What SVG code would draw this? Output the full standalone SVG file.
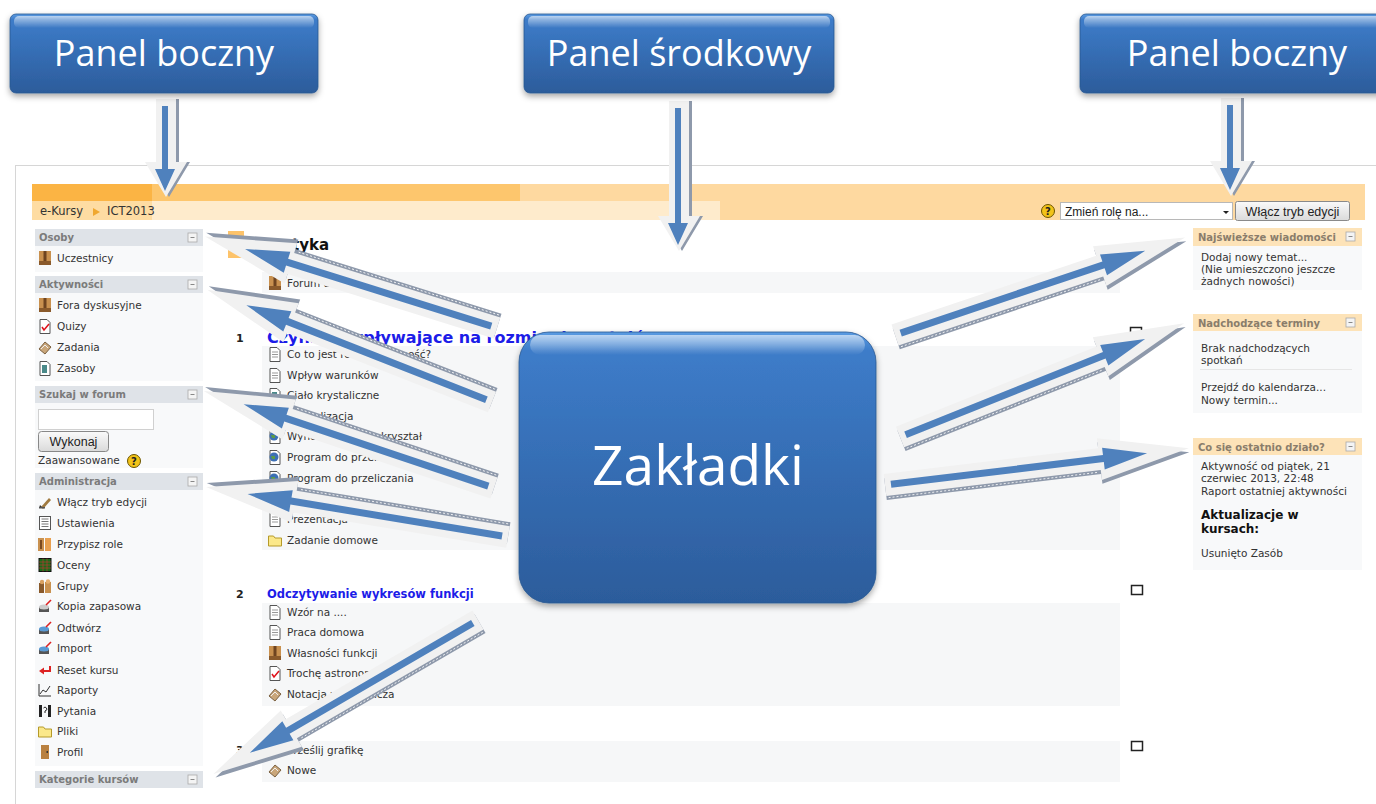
<svg xmlns="http://www.w3.org/2000/svg" xmlns:xlink="http://www.w3.org/1999/xlink" width="1376" height="804" viewBox="0 0 1376 804">
<defs>
<style>
.t{font-family:"DejaVu Sans",Verdana,sans-serif;font-size:10.5px;fill:#333}
.hd{font-family:"DejaVu Sans",Verdana,sans-serif;font-size:10px;font-weight:bold;fill:#7b7b7b}
.rh{font-family:"DejaVu Sans",Verdana,sans-serif;font-size:10px;font-weight:bold;fill:#8a7d6b}
.sec{font-family:"DejaVu Sans",Verdana,sans-serif;font-weight:bold;fill:#1c1ce8}
.num{font-family:"DejaVu Sans",Verdana,sans-serif;font-size:11px;font-weight:bold;fill:#222}
.lb{font-family:"Open Sans","Noto Sans",sans-serif;fill:#fff}
.ui{font-family:"Liberation Sans",Arial,sans-serif;font-size:12px;fill:#222}
.lhd{fill:#dfe3e8}
.rhd{fill:#fde3b8}
.body{fill:#f8f9fa}
.band{fill:#f6f7f8}
.aout{fill:#f1f1f1}
.ash{fill:#8e99ab}
.ablue{fill:#4f81bd}
.box{fill:url(#bg);stroke:#2a5890;stroke-width:0.8}
.gl{fill:url(#hl)}
.upd{font-family:"DejaVu Sans",Verdana,sans-serif;font-weight:bold;font-size:12px;fill:#111}
</style>
<linearGradient id="bg" x1="0" y1="0" x2="0" y2="1">
<stop offset="0" stop-color="#5a9be2"/><stop offset="0.07" stop-color="#3d7cc9"/><stop offset="1" stop-color="#2c5c9b"/>
</linearGradient>
<linearGradient id="hl" x1="0" y1="0" x2="0" y2="1">
<stop offset="0" stop-color="#fff" stop-opacity="0.6"/><stop offset="1" stop-color="#fff" stop-opacity="0"/>
</linearGradient>
<linearGradient id="btn" x1="0" y1="0" x2="0" y2="1">
<stop offset="0" stop-color="#fafafa"/><stop offset="1" stop-color="#dadada"/>
</linearGradient>
<filter id="sh" x="-10%" y="-10%" width="120%" height="130%">
<feDropShadow dx="0" dy="3" stdDeviation="3" flood-color="#000" flood-opacity="0.35"/>
</filter>
<g id="minus"><rect x="0" y="0" width="9" height="9" fill="#f4f4f4" stroke="#aaa" stroke-width="0.8"/><line x1="2.5" y1="4.5" x2="6.5" y2="4.5" stroke="#888"/></g>
<g id="help"><circle cx="7" cy="7" r="6.5" fill="#f2c318" stroke="#6b5400"/><text x="7" y="10.5" text-anchor="middle" font-size="10" font-weight="bold" font-family="DejaVu Sans,sans-serif" fill="#222">?</text></g>
<g id="i-forum"><rect x="1" y="0" width="12" height="14" fill="#c9914f"/><rect x="5.5" y="0" width="3" height="14" fill="#6e4420"/><rect x="1" y="10" width="12" height="4" fill="#8a5a2b"/></g>
<g id="i-page"><path d="M2 0.5h7l3 3v11h-10z" fill="#fff" stroke="#555"/><path d="M4 5h6M4 7.5h6M4 10h6" stroke="#999"/></g>
<g id="i-quiz"><path d="M2 0.5h7l3 3v11h-10z" fill="#fff" stroke="#555"/><polyline points="4,8 6,11 11,5" fill="none" stroke="#e0101a" stroke-width="1.5"/></g>
<g id="i-globe"><path d="M2 0.5h7l3 3v11h-10z" fill="#fff" stroke="#555"/><circle cx="6" cy="7" r="4.5" fill="#3c6fb5"/><path d="M3 6h4v3h-3z" fill="#5a9a4a"/></g>
<g id="i-res"><path d="M2 0.5h7l3 3v11h-10z" fill="#fff" stroke="#555"/><rect x="4" y="4" width="5" height="8" fill="#4a8a8a"/></g>
<g id="i-folder"><path d="M0.5 3h5l1.5 2h6.5v8h-13z" fill="#fbe88a" stroke="#b59a2a"/></g>
<g id="i-assign"><path d="M1 9l6-7 6 5-6 7z" fill="#c9a67a" stroke="#7a6040"/><path d="M3 9l4-4 3 3" fill="none" stroke="#eee"/></g>
<g id="i-edit"><path d="M3 12l8-9 2 2-8 9z" fill="#a07a40"/><path d="M1 13l3-1-2-2z" fill="#333"/><rect x="1" y="12" width="6" height="1.5" fill="#555"/></g>
<g id="i-set"><rect x="1.5" y="0.5" width="11" height="13" fill="#fff" stroke="#555"/><path d="M3.5 3h7M3.5 5.5h7M3.5 8h7M3.5 10.5h7" stroke="#777"/></g>
<g id="i-roles"><rect x="0" y="1" width="6" height="13" fill="#c9914f"/><rect x="7" y="1" width="6" height="13" fill="#e8a050"/><rect x="2" y="3" width="2" height="9" fill="#7a4a20"/></g>
<g id="i-grades"><rect x="1" y="0.5" width="12" height="13" fill="#1a6a1a" stroke="#111"/><path d="M1 4h12M1 7h12M1 10h12M5 0.5v13M9 0.5v13" stroke="#c33" stroke-width="0.6"/></g>
<g id="i-groups"><rect x="1" y="4" width="5" height="10" fill="#8a5a2b"/><rect x="7" y="3" width="6" height="11" fill="#c9914f"/><circle cx="4" cy="3" r="2.2" fill="#d9a060"/><circle cx="10" cy="2.5" r="2.2" fill="#e8b070"/></g>
<g id="i-backup"><rect x="1" y="8" width="10" height="5" fill="#555"/><ellipse cx="6" cy="8" rx="5" ry="2.5" fill="#ccc"/><path d="M8 6l5-5" stroke="#d22" stroke-width="1.6"/></g>
<g id="i-restore"><rect x="1" y="8" width="10" height="5" fill="#555"/><ellipse cx="6" cy="8" rx="5" ry="2.5" fill="#5a9ad4"/><path d="M8 6l5-5" stroke="#d22" stroke-width="1.6"/></g>
<g id="i-reset"><path d="M12 3v5h-7" stroke="#d22" fill="none" stroke-width="2"/><path d="M1 8l5-3.5v7z" fill="#d22"/></g>
<g id="i-report"><path d="M1 1v12h12" stroke="#333" fill="none"/><path d="M2 11l3-4 3 2 4-6" stroke="#333" fill="none"/></g>
<g id="i-quest"><rect x="1" y="1" width="3" height="12" fill="#222"/><rect x="10" y="1" width="3" height="12" fill="#222"/><path d="M5.5 4q1.5-2 3 0t-1.5 3v2" stroke="#222" fill="none"/></g>
<g id="i-profile"><rect x="3" y="0" width="8" height="14" fill="#b9803f"/><rect x="8.5" y="6" width="1.5" height="2" fill="#333"/></g>
<g id="adiag">
<polygon class="ash" points="0,-7 216,-7 216,-17 306,4 216,25 216,15 0,15"/>
<polyline points="2,13 214,13" fill="none" stroke="#fff" stroke-width="0.8" stroke-dasharray="2 2"/>
<polygon class="aout" points="0,-11 216,-11 216,-21 306,0 216,21 216,11 0,11"/>
<polygon class="ablue" points="6,-3.5 220,-3.5 220,-11 264,0 220,11 220,3.5 6,3.5"/>
</g>
<g id="adown">
<polygon class="ash" points="-7,0 13,0 13,63 24,63 3,98 -18,63 -7,63"/>
<polygon class="aout" points="-10,0 10,0 10,63 21,63 0,98 -21,63 -10,63"/>
<polygon class="ablue" points="-4,7 2,7 2,70 9,70 -1,92 -11,70 -4,70"/>
</g>
<g id="adownlong">
<polygon class="ash" points="-7,0 13,0 13,115 24,115 3,150 -18,115 -7,115"/>
<polygon class="aout" points="-10,0 10,0 10,115 21,115 0,150 -21,115 -10,115"/>
<polygon class="ablue" points="-4,7 2,7 2,122 9,122 -1,144 -11,122 -4,122"/>
</g>
</defs>

<rect x="0" y="0" width="1376" height="804" fill="#fff"/>

<g id="screenshot">
<line x1="15" y1="165.5" x2="1376" y2="165.5" stroke="#d6d6d6"/>
<line x1="15.5" y1="165" x2="15.5" y2="804" stroke="#d6d6d6"/>
<rect x="32" y="184" width="120" height="17" fill="#fbb444"/>
<rect x="152" y="184" width="368" height="17" fill="#fdc66d"/>
<rect x="520" y="184" width="845" height="17" fill="#fed9a0"/>
<rect x="32" y="201" width="120" height="19" fill="#fedca2"/>
<rect x="152" y="201" width="568" height="19" fill="#feebcc"/>
<rect x="720" y="201" width="645" height="19" fill="#fed9a0"/>
<text class="t" x="40" y="215" style="font-size:11.5px">e-Kursy</text>
<polygon points="93,208 100,212 93,216" fill="#f0a830"/>
<text class="t" x="107" y="215" style="font-size:11.5px">ICT2013</text>
<use href="#help" x="1041" y="204"/>
<rect x="1060.5" y="202.5" width="172" height="17" fill="#fff" stroke="#b8b8b8"/>
<text class="ui" x="1065" y="215.5">Zmień rolę na...</text>
<polygon points="1223,211 1229,211 1226,214" fill="#222"/>
<rect x="1235.5" y="201.5" width="114" height="19" rx="2" fill="url(#btn)" stroke="#8a8a8a"/>
<text class="ui" x="1292.5" y="215.5" text-anchor="middle" style="font-size:12.5px">Włącz tryb edycji</text>

<g id="left-blocks">
<rect class="lhd" x="35" y="229" width="168" height="17"/>
<text class="hd" x="39" y="241">Osoby</text>
<use href="#minus" x="188" y="233"/>
<rect class="body" x="35" y="246" width="168" height="26"/>
<use href="#i-forum" x="38" y="251"/><text class="t" x="57" y="262">Uczestnicy</text>

<rect class="lhd" x="35" y="276" width="168" height="17"/>
<text class="hd" x="39" y="288">Aktywności</text>
<use href="#minus" x="188" y="280"/>
<rect class="body" x="35" y="293" width="168" height="88"/>
<use href="#i-forum" x="38" y="298"/><text class="t" x="57" y="309">Fora dyskusyjne</text>
<use href="#i-quiz" x="38" y="319"/><text class="t" x="57" y="330">Quizy</text>
<use href="#i-assign" x="38" y="340"/><text class="t" x="57" y="351">Zadania</text>
<use href="#i-res" x="38" y="361"/><text class="t" x="57" y="372">Zasoby</text>

<rect class="lhd" x="35" y="386" width="168" height="17"/>
<text class="hd" x="39" y="398">Szukaj w forum</text>
<use href="#minus" x="188" y="390"/>
<rect class="body" x="35" y="403" width="168" height="65"/>
<rect x="38.5" y="409.5" width="115" height="20" fill="#fff" stroke="#d0d0d0"/>
<rect x="38.5" y="431.5" width="70" height="20" rx="3" fill="url(#btn)" stroke="#888"/>
<text class="ui" x="73.5" y="446" text-anchor="middle" style="font-size:12.5px">Wykonaj</text>
<text class="t" x="38" y="464">Zaawansowane</text>
<use href="#help" x="127" y="454"/>

<rect class="lhd" x="35" y="473" width="168" height="17"/>
<text class="hd" x="39" y="485">Administracja</text>
<use href="#minus" x="188" y="477"/>
<rect class="body" x="35" y="490" width="168" height="276"/>
<use href="#i-edit" x="38" y="495"/><text class="t" x="57" y="506">Włącz tryb edycji</text>
<use href="#i-set" x="38" y="516"/><text class="t" x="57" y="527">Ustawienia</text>
<use href="#i-roles" x="38" y="537"/><text class="t" x="57" y="548">Przypisz role</text>
<use href="#i-grades" x="38" y="558"/><text class="t" x="57" y="569">Oceny</text>
<use href="#i-groups" x="38" y="579"/><text class="t" x="57" y="590">Grupy</text>
<use href="#i-backup" x="38" y="599"/><text class="t" x="57" y="610">Kopia zapasowa</text>
<use href="#i-restore" x="38" y="621"/><text class="t" x="57" y="632">Odtwórz</text>
<use href="#i-restore" x="38" y="641"/><text class="t" x="57" y="652">Import</text>
<use href="#i-reset" x="38" y="663"/><text class="t" x="57" y="674">Reset kursu</text>
<use href="#i-report" x="38" y="683"/><text class="t" x="57" y="694">Raporty</text>
<use href="#i-quest" x="38" y="704"/><text class="t" x="57" y="715">Pytania</text>
<use href="#i-folder" x="38" y="724"/><text class="t" x="57" y="735">Pliki</text>
<use href="#i-profile" x="38" y="745"/><text class="t" x="57" y="756">Profil</text>

<rect class="lhd" x="35" y="771" width="168" height="17"/>
<text class="hd" x="39" y="783">Kategorie kursów</text>
<use href="#minus" x="188" y="775"/>
</g>

<g id="center-content">
<rect x="228" y="231" width="16" height="27" fill="#fdc36a"/>
<text class="sec" x="292" y="250" style="fill:#111;font-size:15px">tyka</text>
<rect class="band" x="262" y="272" width="858" height="21"/>
<use href="#i-forum" x="268" y="276"/><text class="t" x="287" y="287">Forum aktualności</text>

<text class="num" x="236" y="342">1</text>
<text class="sec" x="267" y="343" style="font-size:16px">Czynniki wpływające na rozmiar kryształów</text>
<rect class="band" x="262" y="346" width="858" height="204"/>
<use href="#i-page" x="268" y="347"/><text class="t" x="287" y="358">Co to jest rozpuszczalność?</text>
<use href="#i-page" x="268" y="368"/><text class="t" x="287" y="379">Wpływ warunków</text>
<use href="#i-res" x="268" y="388"/><text class="t" x="287" y="399">Ciało krystaliczne</text>
<use href="#i-page" x="268" y="409"/><text class="t" x="287" y="420">Krystalizacja</text>
<use href="#i-globe" x="268" y="429"/><text class="t" x="287" y="440">Wyhodujmy duży kryształ</text>
<use href="#i-globe" x="268" y="450"/><text class="t" x="287" y="461">Program do przeliczania</text>
<use href="#i-globe" x="268" y="471"/><text class="t" x="287" y="482">Program do przeliczania</text>
<use href="#i-page" x="268" y="512"/><text class="t" x="287" y="523">Prezentacja</text>
<use href="#i-folder" x="268" y="533"/><text class="t" x="287" y="544">Zadanie domowe</text>
<rect x="1130.5" y="327.5" width="11" height="9" fill="#fff" stroke="#222" stroke-width="1.5"/>

<text class="num" x="236" y="598">2</text>
<text class="sec" x="267" y="598" style="font-size:11.5px">Odczytywanie wykresów funkcji</text>
<rect x="1131.5" y="585.5" width="11" height="9" fill="#fff" stroke="#222" stroke-width="1.5"/>
<rect class="band" x="262" y="603" width="858" height="103"/>
<use href="#i-page" x="268" y="605"/><text class="t" x="287" y="616">Wzór na ....</text>
<use href="#i-page" x="268" y="625"/><text class="t" x="287" y="636">Praca domowa</text>
<use href="#i-forum" x="268" y="646"/><text class="t" x="287" y="657">Własności funkcji</text>
<use href="#i-quiz" x="268" y="666"/><text class="t" x="287" y="677">Trochę astronomii</text>
<use href="#i-assign" x="268" y="687"/><text class="t" x="287" y="698">Notacja wykładnicza</text>

<text class="num" x="236" y="754">3</text>
<rect x="1131.5" y="741.5" width="11" height="9" fill="#fff" stroke="#222" stroke-width="1.5"/>
<rect class="band" x="262" y="741" width="858" height="41"/>
<use href="#i-assign" x="268" y="743"/><text class="t" x="287" y="754">Prześlij grafikę</text>
<use href="#i-assign" x="268" y="763"/><text class="t" x="287" y="774">Nowe</text>
</g>

<g id="right-blocks">
<rect class="rhd" x="1193" y="228" width="169" height="18"/>
<text class="rh" x="1198" y="241">Najświeższe wiadomości</text>
<use href="#minus" x="1346" y="232"/>
<rect class="body" x="1193" y="246" width="169" height="44"/>
<text class="t" x="1201" y="261">Dodaj nowy temat...</text>
<text class="t" x="1201" y="273">(Nie umieszczono jeszcze</text>
<text class="t" x="1201" y="285">żadnych nowości)</text>

<rect class="rhd" x="1193" y="314" width="169" height="17"/>
<text class="rh" x="1198" y="327">Nadchodzące terminy</text>
<use href="#minus" x="1346" y="318"/>
<rect class="body" x="1193" y="331" width="169" height="82"/>
<text class="t" x="1201" y="352">Brak nadchodzących</text>
<text class="t" x="1201" y="364">spotkań</text>
<line x1="1200" y1="369.5" x2="1352" y2="369.5" stroke="#e6e6e6"/>
<text class="t" x="1201" y="391">Przejdź do kalendarza...</text>
<text class="t" x="1201" y="404">Nowy termin...</text>

<rect class="rhd" x="1193" y="438" width="169" height="17"/>
<text class="rh" x="1198" y="451">Co się ostatnio działo?</text>
<use href="#minus" x="1346" y="442"/>
<rect class="body" x="1193" y="455" width="169" height="115"/>
<text class="t" x="1201" y="470">Aktywność od piątek, 21</text>
<text class="t" x="1201" y="482">czerwiec 2013, 22:48</text>
<text class="t" x="1201" y="495">Raport ostatniej aktywności</text>
<text class="upd" x="1201" y="519">Aktualizacje w</text>
<text class="upd" x="1201" y="533">kursach:</text>
<text class="t" x="1201" y="557">Usunięto Zasób</text>
</g>
</g>

<g id="connectors">
<use href="#adown" x="166" y="99"/>
<use href="#adownlong" x="679" y="101"/>
<use href="#adown" x="1231" y="98"/>
<use href="#adiag" transform="translate(497,328) rotate(197.4)"/>
<use href="#adiag" transform="translate(492,402) rotate(201.5)"/>
<use href="#adiag" transform="translate(494,488) rotate(198.5)"/>
<use href="#adiag" transform="translate(508,537) rotate(189.4)"/>
<use href="#adiag" transform="translate(478,620) rotate(149.8) scale(1,-1)"/>
<use href="#adiag" transform="translate(895,335) rotate(-18.6)"/>
<use href="#adiag" transform="translate(900,437) rotate(-21.8)"/>
<use href="#adiag" transform="translate(885,485) rotate(-6.9)"/>
</g>

<g id="node-panel-boczny-left">
<rect class="box" x="10" y="14" width="308" height="79" rx="6" filter="url(#sh)"/>
<rect class="gl" x="14" y="16" width="300" height="12" rx="5"/>
<text class="lb" x="164" y="66" text-anchor="middle" font-size="36">Panel boczny</text>
</g>
<g id="node-panel-srodkowy">
<rect class="box" x="524" y="14" width="310" height="79" rx="6" filter="url(#sh)"/>
<rect class="gl" x="528" y="16" width="302" height="12" rx="5"/>
<text class="lb" x="679" y="66" text-anchor="middle" font-size="36">Panel środkowy</text>
</g>
<g id="node-panel-boczny-right">
<rect class="box" x="1080" y="14" width="310" height="79" rx="6" filter="url(#sh)"/>
<rect class="gl" x="1084" y="16" width="302" height="12" rx="5"/>
<text class="lb" x="1237" y="66" text-anchor="middle" font-size="36">Panel boczny</text>
</g>
<g id="node-zakladki">
<rect class="box" x="519" y="332" width="357" height="271" rx="30" filter="url(#sh)"/>
<rect class="gl" x="530" y="335" width="335" height="20" rx="10"/>
<text class="lb" x="698" y="485" text-anchor="middle" font-size="55">Zakładki</text>
</g>
</svg>
